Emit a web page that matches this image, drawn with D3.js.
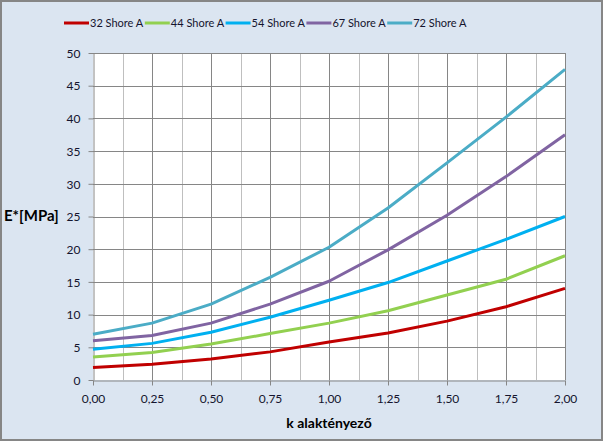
<!DOCTYPE html>
<html>
<head>
<meta charset="utf-8">
<script src="https://cdn.jsdelivr.net/npm/d3@7"></script>
<style>
    body { margin: 0; background: #fff; }
    text { font-family: Lato, "Liberation Sans", sans-serif; }
</style>
</head>
<body>
<div id="chart"></div>
<script>
// values
const kValues = [0, 0.25, 0.5, 0.75, 1.0, 1.25, 1.5, 1.75, 2.0];
const seriesNames = ['32 Shore A', '44 Shore A', '54 Shore A', '67 Shore A', '72 Shore A'];
const shore32 = [1.9, 2.4, 3.2, 4.3, 5.8, 7.2, 9.0, 11.2, 14.0];
const shore44 = [3.5, 4.2, 5.5, 7.1, 8.7, 10.6, 13.0, 15.4, 19.0];
const shore54 = [4.7, 5.6, 7.3, 9.6, 12.2, 14.9, 18.2, 21.5, 25.0];
const shore67 = [6.0, 6.8, 8.7, 11.6, 15.1, 19.9, 25.2, 31.1, 37.5];
const shore72 = [7.0, 8.7, 11.6, 15.7, 20.3, 26.3, 33.2, 40.2, 47.5];
const xTicks = [0, 0.25, 0.5, 0.75, 1.0, 1.25, 1.5, 1.75, 2.0];
const yTicks = [0, 5, 10, 15, 20, 25, 30, 35, 40, 45, 50];
const colors = ['#C00000', '#92D050', '#00B0F0', '#8064A2', '#4BACC6'];

const W = 603, H = 441;
const plot = {left: 93, top: 53, right: 565, bottom: 380};

const svg = d3.select('#chart').append('svg')
    .attr('width', W)
    .attr('height', H);

// chart area
svg.append('rect')
    .attr('x', 1).attr('y', 1)
    .attr('width', W - 2).attr('height', H - 2)
    .attr('fill', '#DBE5F1')
    .attr('stroke', '#868686')
    .attr('stroke-width', 2);

const x = d3.scaleLinear().domain([0, 2]).range([plot.left, plot.right]);
const y = d3.scaleLinear().domain([0, 50]).range([plot.bottom, plot.top]);

svg.append('rect')
    .attr('x', plot.left).attr('y', plot.top)
    .attr('width', plot.right - plot.left)
    .attr('height', plot.bottom - plot.top)
    .attr('fill', '#fff');

// minor vertical grid
const minor = d3.range(0.125, 2, 0.25);
svg.append('g').selectAll('line')
    .data(minor).enter().append('line')
    .attr('x1', d => Math.round(x(d)) + 0.5).attr('x2', d => Math.round(x(d)) + 0.5)
    .attr('y1', plot.top).attr('y2', plot.bottom)
    .attr('stroke', '#BFBFBF').attr('stroke-width', 1);

// major grid
svg.append('g').selectAll('line')
    .data(xTicks.slice(1)).enter().append('line')
    .attr('x1', d => Math.round(x(d)) + 0.5).attr('x2', d => Math.round(x(d)) + 0.5)
    .attr('y1', plot.top).attr('y2', plot.bottom)
    .attr('stroke', '#868686').attr('stroke-width', 1);

svg.append('g').selectAll('line')
    .data(yTicks.slice(1)).enter().append('line')
    .attr('x1', plot.left).attr('x2', plot.right)
    .attr('y1', d => Math.round(y(d)) + 0.5).attr('y2', d => Math.round(y(d)) + 0.5)
    .attr('stroke', '#868686').attr('stroke-width', 1);

const fmt = d => d3.format('.2f')(d).replace('.', ',');

const xAxis = svg.append('g')
    .attr('transform', `translate(0,${plot.bottom + 0.5})`)
    .call(d3.axisBottom(x).tickValues(xTicks).tickFormat(fmt).tickSizeInner(5).tickSizeOuter(0).tickPadding(9));

const yAxis = svg.append('g')
    .attr('transform', `translate(${plot.left + 0.5},0)`)
    .call(d3.axisLeft(y).tickValues(yTicks).tickSizeInner(5).tickSizeOuter(0).tickPadding(8));

[xAxis, yAxis].forEach(a => {
    a.select('.domain').attr('stroke', '#868686');
    a.selectAll('.tick line').attr('stroke', '#868686');
    a.selectAll('.tick text')
        .attr('fill', '#14142E')
        .style('font-size', '12px');
});
yAxis.selectAll('.tick text').attr('dy', '0.35em');

// series
const allSeries = [shore32, shore44, shore54, shore67, shore72];
const line = d3.line()
    .x((d, i) => x(kValues[i]))
    .y(d => y(d));

svg.append('g').selectAll('path')
    .data(allSeries).enter().append('path')
    .attr('d', line)
    .attr('fill', 'none')
    .attr('stroke', (d, i) => colors[i])
    .attr('stroke-width', 3)
    .attr('stroke-linejoin', 'round');

// legend
const legend = svg.append('g').attr('transform', 'translate(64,23)');
const item = legend.selectAll('g')
    .data(seriesNames).enter().append('g')
    .attr('transform', (d, i) => `translate(${i * 80.8},0)`);
item.append('line')
    .attr('x1', 0).attr('x2', 25)
    .attr('stroke', (d, i) => colors[i])
    .attr('stroke-width', 3);
item.append('text')
    .attr('x', 26).attr('dy', '0.35em')
    .style('font-size', '11px')
    .attr('fill', '#14142E')
    .text(d => d);

// axis titles
svg.append('text')
    .attr('x', 4).attr('y', 216)
    .attr('dy', '0.35em')
    .style('font-size', '15px')
    .style('font-weight', 'bold')
    .attr('fill', '#000')
    .text('E*[MPa]');

svg.append('text')
    .attr('x', (plot.left + plot.right) / 2).attr('y', 428)
    .attr('text-anchor', 'middle')
    .style('font-size', '14px')
    .style('font-weight', 'bold')
    .attr('fill', '#000')
    .text('k alaktényező');
</script>
</body>
</html>
